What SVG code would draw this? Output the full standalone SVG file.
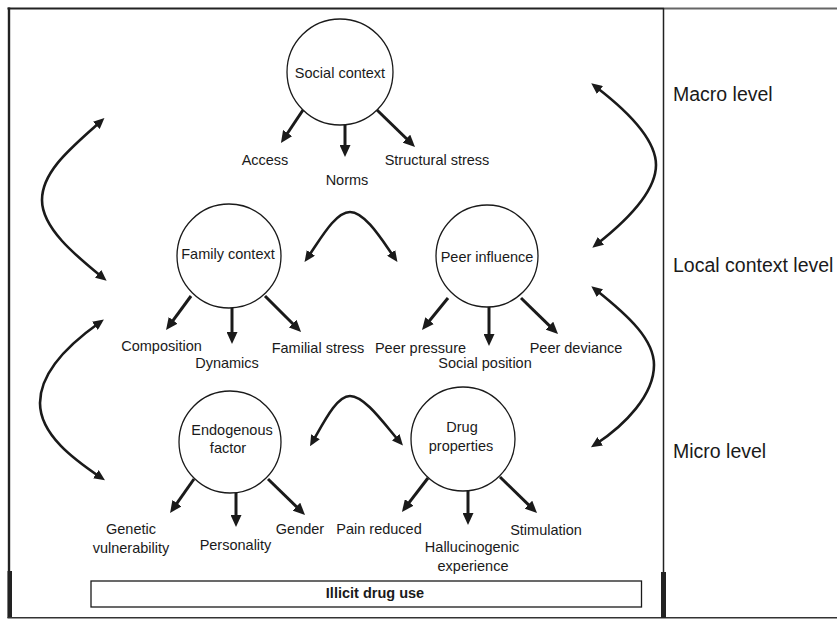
<svg xmlns="http://www.w3.org/2000/svg" width="837" height="619" viewBox="0 0 837 619">
<style>
.t{font-family:"Liberation Sans",Arial,sans-serif;font-size:14.5px;fill:#1a1a1a;text-anchor:middle}
.lv{font-family:"Liberation Sans",Arial,sans-serif;font-size:19.5px;fill:#1a1a1a}
.b{font-family:"Liberation Sans",Arial,sans-serif;font-size:14.5px;font-weight:bold;fill:#1a1a1a;text-anchor:middle}
.c{fill:#fff;stroke:#1a1a1a;stroke-width:1.3}
.a{fill:none;stroke:#1a1a1a;stroke-width:3;marker-end:url(#ah)}
.cv{fill:none;stroke:#1a1a1a;stroke-width:2.6;marker-start:url(#ah2);marker-end:url(#ah2)}
</style>
<defs>
<marker id="ah" markerUnits="userSpaceOnUse" viewBox="0 0 12 11" markerWidth="12" markerHeight="11" refX="6" refY="5.5" orient="auto">
<path d="M0,0 L12,5.5 L0,11 z" fill="#1a1a1a"/>
</marker>
<marker id="ah2" markerUnits="userSpaceOnUse" viewBox="0 0 11 10" markerWidth="11" markerHeight="10" refX="5" refY="5" orient="auto-start-reverse">
<path d="M0,0 L11,5 L0,10 z" fill="#1a1a1a"/>
</marker>
</defs>
<rect width="837" height="619" fill="#fff"/>
<g id="frame">
<line x1="7.5" y1="8.5" x2="664" y2="8.5" stroke="#222" stroke-width="2"/>
<line x1="664" y1="8.5" x2="837" y2="8.5" stroke="#666" stroke-width="2"/>
<line x1="9" y1="7.5" x2="9" y2="618" stroke="#222" stroke-width="2.4"/>
<rect x="7.5" y="571" width="4.5" height="47" fill="#222"/>
<line x1="7.5" y1="617.8" x2="837" y2="617.8" stroke="#333" stroke-width="1.5"/>
<line x1="663.5" y1="8" x2="663.5" y2="572" stroke="#222" stroke-width="1.5"/>
<rect x="661" y="572" width="5" height="46" fill="#222"/>
</g>
<g id="levels">
<text class="lv" x="673" y="101">Macro level</text>
<text class="lv" x="673" y="272">Local context level</text>
<text class="lv" x="673" y="458">Micro level</text>
</g>
<g id="connectors">
<path class="cv" d="M596,87 C630,113 656,140 656,165 C656,192 625,222 597,244"/>
<path class="cv" d="M596,290 C630,317 654,340 654,365 C654,395 625,425 596,444"/>
<path class="cv" d="M100,122 C75,145 42,170 42,200 C42,228 75,255 102,277"/>
<path class="cv" d="M99,323 C75,340 40,370 40,403 C40,435 75,460 100,477"/>
<path class="cv" d="M308,257 C320,240 335,212 350,212 C365,212 382,240 394,257"/>
<path class="cv" d="M313,441 C325,420 337,396 350,396 C365,396 385,425 399,441"/>
<line class="a" x1="303" y1="110" x2="284.3" y2="138"/>
<line class="a" x1="345" y1="125" x2="345" y2="151"/>
<line class="a" x1="377" y1="110" x2="410.7" y2="142.8"/>
<line class="a" x1="191" y1="296" x2="169.6" y2="325.2"/>
<line class="a" x1="232" y1="308" x2="232" y2="338"/>
<line class="a" x1="265" y1="296" x2="296.8" y2="327.8"/>
<line class="a" x1="448" y1="298" x2="425.8" y2="325.3"/>
<line class="a" x1="489" y1="307" x2="489" y2="340"/>
<line class="a" x1="521" y1="298" x2="553.7" y2="329.8"/>
<line class="a" x1="194" y1="479" x2="173.5" y2="508.1"/>
<line class="a" x1="236" y1="493" x2="236" y2="521"/>
<line class="a" x1="268" y1="479" x2="300.7" y2="510.8"/>
<line class="a" x1="428" y1="478" x2="405.6" y2="507.2"/>
<line class="a" x1="468" y1="491" x2="468" y2="519"/>
<line class="a" x1="500" y1="477" x2="532.7" y2="508.8"/>
</g>
<g id="social-context">
<circle class="c" cx="340" cy="72" r="53"/>
<text class="t" x="340" y="78">Social context</text>
</g>
<g id="social-labels">
<text class="t" x="265" y="165">Access</text>
<text class="t" x="347" y="185">Norms</text>
<text class="t" x="437" y="165">Structural stress</text>
</g>
<g id="family-context">
<circle class="c" cx="229" cy="256" r="52"/>
<text class="t" x="228" y="259">Family context</text>
</g>
<g id="family-labels">
<text class="t" x="161.5" y="351">Composition</text>
<text class="t" x="227" y="368">Dynamics</text>
<text class="t" x="318" y="353">Familial stress</text>
</g>
<g id="peer-influence">
<circle class="c" cx="487" cy="256" r="51"/>
<text class="t" x="487" y="262">Peer influence</text>
</g>
<g id="peer-labels">
<text class="t" x="420.5" y="353">Peer pressure</text>
<text class="t" x="485" y="368">Social position</text>
<text class="t" x="576" y="353">Peer deviance</text>
</g>
<g id="endogenous-factor">
<circle class="c" cx="230" cy="442" r="51"/>
<text class="t" x="232" y="435">Endogenous</text>
<text class="t" x="228" y="453">factor</text>
</g>
<g id="endogenous-labels">
<text class="t" x="131" y="534">Genetic</text>
<text class="t" x="131" y="553">vulnerability</text>
<text class="t" x="235.5" y="550">Personality</text>
<text class="t" x="300" y="534">Gender</text>
</g>
<g id="drug-properties">
<circle class="c" cx="463" cy="439" r="52"/>
<text class="t" x="462" y="432">Drug</text>
<text class="t" x="461" y="451">properties</text>
</g>
<g id="drug-labels">
<text class="t" x="379" y="534">Pain reduced</text>
<text class="t" x="472" y="552">Hallucinogenic</text>
<text class="t" x="473" y="571">experience</text>
<text class="t" x="546" y="535">Stimulation</text>
</g>
<g id="illicit-drug-use">
<rect x="91" y="581" width="550.5" height="26" fill="#fff" stroke="#1a1a1a" stroke-width="1.3"/>
<text class="b" x="375" y="598">Illicit drug use</text>
</g>
</svg>
